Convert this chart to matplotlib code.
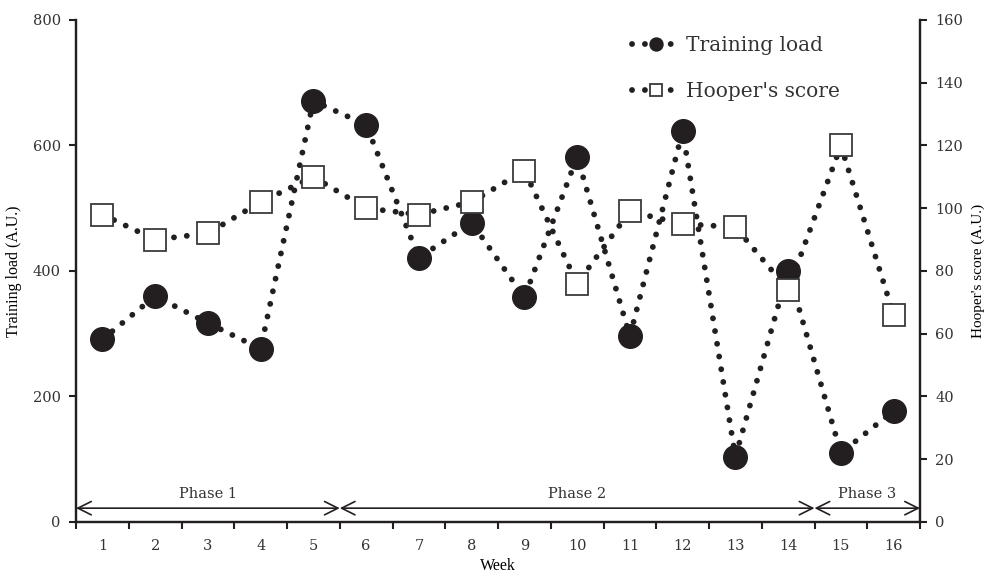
import numpy as np
import matplotlib
matplotlib.use("Agg")
import matplotlib.pyplot as plt

# data
weeks = list(range(1, 17))
training_load = [291, 360, 317, 276, 671, 633, 421, 477, 358, 582, 296, 623, 104, 400, 110, 177]
hooper_score = [98, 90, 92, 102, 110, 100, 98, 102, 112, 76, 99, 95, 94, 74, 120, 66]
phase_names = ["Phase 1", "Phase 2", "Phase 3"]
phase_bounds = [(0.5, 5.5), (5.5, 14.5), (14.5, 16.5)]

tick_font = "DejaVu Serif"
label_font = "Liberation Serif"
dark = "#231f20"

fig = plt.figure(figsize=(9.9, 5.76), dpi=100)
ax = fig.add_axes([0.0768, 0.0938, 0.8525, 0.8715])
ax2 = ax.twinx()

dots = (0, (0.01, 2.2))

# training load (left axis)
ax.plot(weeks, training_load, color=dark, linestyle=dots, linewidth=4.2,
        dash_capstyle="round", marker="o", markersize=17,
        markerfacecolor=dark, markeredgecolor=dark, label="Training load")

# Hooper's score (right axis)
ax2.plot(weeks, hooper_score, color=dark, linestyle=dots, linewidth=4.2,
         dash_capstyle="round", marker="s", markersize=16,
         markerfacecolor="white", markeredgecolor="#3a3a3a", markeredgewidth=1.3,
         label="Hooper's score")

ax.set_xlim(0.5, 16.5)
ax.set_ylim(0, 800)
ax2.set_ylim(0, 160)

ax.set_yticks([0, 200, 400, 600, 800])
ax2.set_yticks(np.arange(0, 161, 20))

# category axis: tick marks between weeks, labels at weeks
ax.set_xticks(np.arange(0.5, 17, 1))
ax.set_xticklabels([])
ax.set_xticks(weeks, minor=True)
ax.set_xticklabels([str(w) for w in weeks], minor=True)
ax.tick_params(axis="x", which="minor", length=0, pad=12)
ax.tick_params(axis="x", which="major", length=5, width=1.5, direction="out", color=dark)
ax.tick_params(axis="y", length=5, width=1.5, direction="out", color=dark, pad=6)
ax2.tick_params(axis="y", length=5, width=1.5, direction="out", color=dark, pad=6)

for lab in ax.get_xticklabels(minor=True) + ax.get_yticklabels() + ax2.get_yticklabels():
    lab.set_fontfamily(tick_font)
    lab.set_fontsize(10.5)
    lab.set_color("#333333")

for a in (ax, ax2):
    a.spines["top"].set_visible(False)
    for s in ("left", "right", "bottom"):
        a.spines[s].set_linewidth(1.6)
        a.spines[s].set_color(dark)

ax.set_xlabel("Week", fontfamily=label_font, fontsize=11.5, labelpad=4)
ax.set_ylabel("Training load (A.U.)", fontfamily=label_font, fontsize=11.5, labelpad=8)
ax2.set_ylabel("Hooper's score (A.U.)", fontfamily=label_font, fontsize=11, labelpad=6)

# phase arrows
for name, (x0, x1) in zip(phase_names, phase_bounds):
    ax.annotate("", xy=(x0, 22), xytext=(x1, 22),
                arrowprops=dict(arrowstyle="<->", color=dark, lw=1.2,
                                mutation_scale=24, shrinkA=0, shrinkB=0))
    ax.text((x0 + x1) / 2, 33, name, ha="center", va="bottom",
            fontfamily=tick_font, fontsize=10.5, color="#333333")

# legend
h1, l1 = ax.get_legend_handles_labels()
h2, l2 = ax2.get_legend_handles_labels()
leg = ax2.legend(h1 + h2, l1 + l2, loc="upper left", bbox_to_anchor=(0.637, 1.005),
                 frameon=False, prop={"family": tick_font, "size": 14.5},
                 handlelength=2.4, labelspacing=1.35, handletextpad=0.3,
                 markerscale=0.55)
for t in leg.get_texts():
    t.set_color("#333333")

fig.savefig("out.png", dpi=100)
